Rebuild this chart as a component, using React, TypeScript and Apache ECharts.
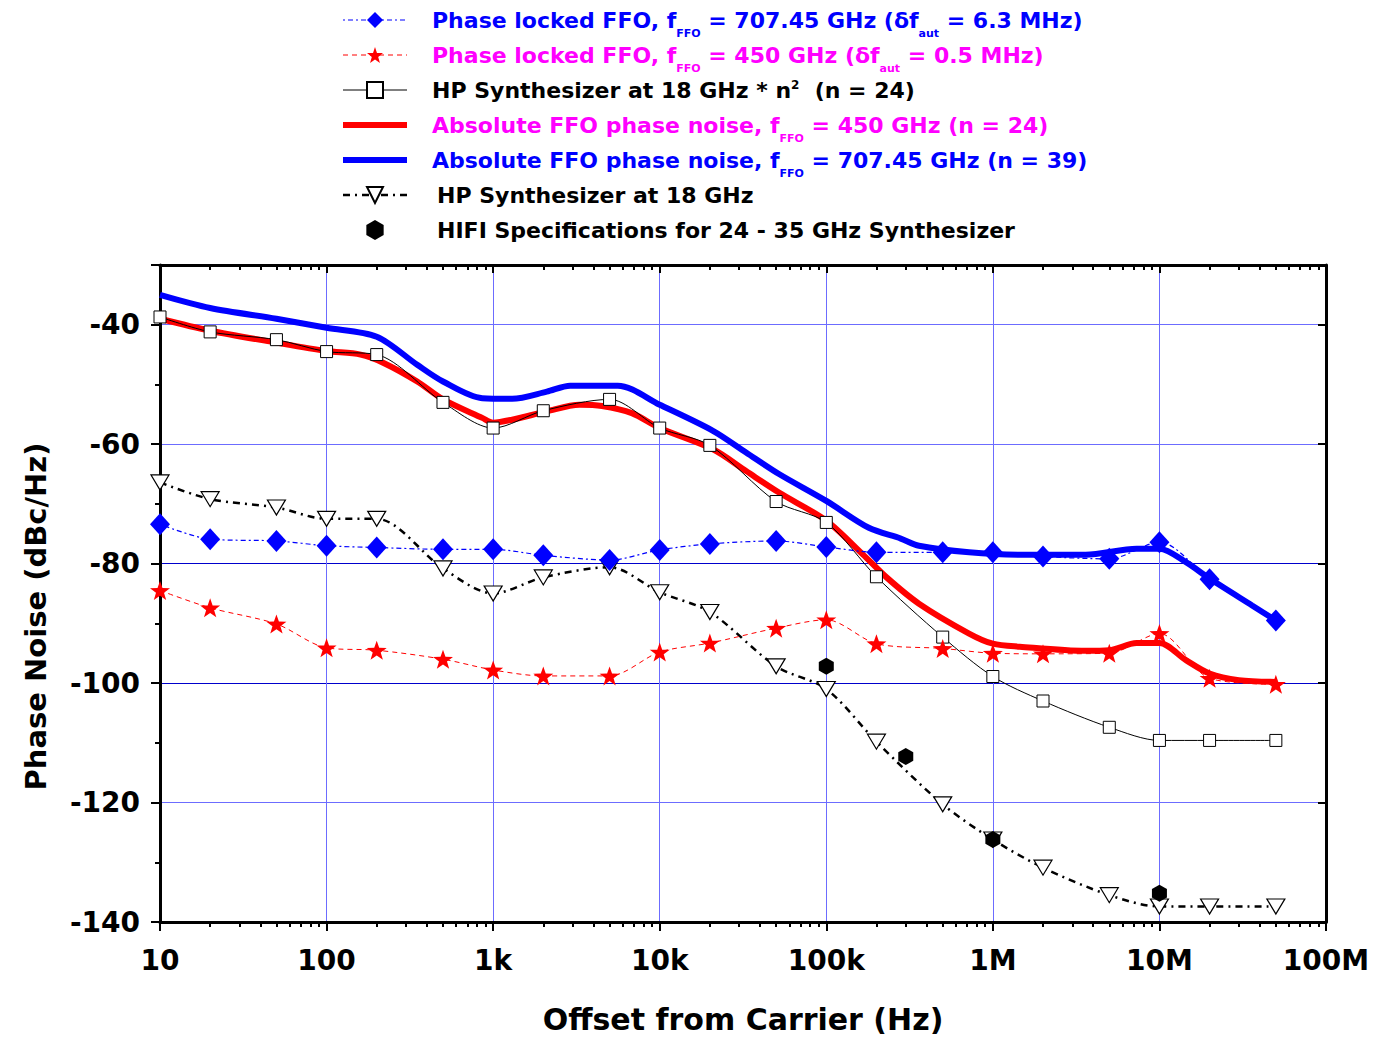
import React, { useEffect, useRef } from 'react';
import * as echarts from 'echarts';

// ---------- data ----------
const FREQ = [10, 20, 50, 100, 200, 500, 1e3, 2e3, 5e3, 1e4, 2e4, 5e4, 1e5, 2e5, 5e5, 1e6, 2e6, 5e6, 1e7, 2e7, 5e7];
const PL_707 = [-73.4, -75.9, -76.2, -77.0, -77.3, -77.6, -77.6, -78.6, -79.4, -77.7, -76.7, -76.2, -77.2, -78.1, -78.1, -78.1, -78.8, -79.2, -76.4, -82.6, -89.5];
const PL_450 = [-84.5, -87.4, -90.1, -94.1, -94.5, -96.0, -97.8, -98.8, -98.8, -94.8, -93.3, -90.8, -89.4, -93.4, -94.2, -95.0, -95.1, -95.0, -91.7, -99.2, -100.2];
const HP_N2 = [-38.7, -41.2, -42.5, -44.5, -45.0, -53.0, -57.3, -54.4, -52.5, -57.3, -60.2, -69.6, -73.1, -82.2, -92.3, -98.9, -103.0, -107.4, -109.6, -109.6, -109.6];
const HP_18 = [-66.4, -69.2, -70.6, -72.5, -72.5, -80.8, -85.0, -82.3, -80.6, -84.8, -88.1, -97.2, -101.0, -109.8, -120.3, -126.2, -130.9, -135.5, -137.4, -137.4, -137.4];
const HIFI_FREQ = [1e5, 3e5, 1e6, 1e7];
const HIFI_SPEC = [-97.2, -112.3, -126.2, -135.2];
const ABS_450_FREQ = [10, 20, 50, 100, 160, 220, 350, 500, 860, 1000, 1300, 2100, 3300, 4500, 6800, 1e4, 2.1e4, 3.3e4, 5.2e4, 1e5, 1.65e5, 2.3e5, 3.6e5, 7.2e5, 1e6, 1.45e6, 3.6e6, 5e6, 7.3e6, 1e7, 1.45e7, 2e7, 3e7, 5e7];
const ABS_450 = [-39.0, -41.0, -43.0, -44.4, -45.0, -46.4, -49.5, -52.5, -55.6, -56.4, -55.9, -54.5, -53.4, -53.6, -54.8, -57.3, -60.9, -64.5, -68.1, -72.8, -78.4, -82.3, -86.7, -91.7, -93.4, -93.9, -94.6, -94.5, -93.3, -93.3, -96.2, -98.4, -99.5, -99.8];
const ABS_707_FREQ = [10, 20, 50, 100, 200, 350, 500, 860, 1300, 2100, 2900, 5600, 1e4, 2.1e4, 3.3e4, 5.2e4, 1e5, 1.8e5, 2.8e5, 3.6e5, 7.2e5, 1.45e6, 3.6e6, 7.3e6, 1e7, 1.45e7, 2e7, 3.6e7, 5e7];
const ABS_707 = [-35.0, -37.2, -39.0, -40.5, -42.0, -46.7, -49.5, -52.3, -52.4, -51.2, -50.2, -50.2, -53.4, -57.8, -61.4, -65.0, -69.5, -74.0, -75.8, -77.0, -78.1, -78.5, -78.5, -77.5, -77.5, -79.8, -82.5, -87.0, -89.5];
const X_TICK_LABELS = ['10', '100', '1k', '10k', '100k', '1M', '10M', '100M'];

// ---------- names ----------
const N1 = 'Phase locked FFO, fFFO = 707.45 GHz (δfaut = 6.3 MHz)';
const N2 = 'Phase locked FFO, fFFO = 450 GHz (δfaut = 0.5 MHz)';
const N3 = 'HP Synthesizer at 18 GHz * n2  (n = 24)';
const N4 = 'Absolute FFO phase noise, fFFO = 450 GHz (n = 24)';
const N5 = 'Absolute FFO phase noise, fFFO = 707.45 GHz (n = 39)';
const N6 = 'HP Synthesizer at 18 GHz';
const N7 = 'HIFI Specifications for 24 - 35 GHz Synthesizer';

const LEGEND_RICH: Record<string, string> = {
  [N1]: '{t|Phase locked FFO, f}{s|FFO}{t| = 707.45 GHz (δf}{s|aut}{t| = 6.3 MHz)}',
  [N2]: '{t|Phase locked FFO, f}{s|FFO}{t| = 450 GHz (δf}{s|aut}{t| = 0.5 MHz)}',
  [N3]: '{t|HP Synthesizer at 18 GHz * n}{p|2}{t|  (n = 24)}',
  [N4]: '{t|Absolute FFO phase noise, f}{s|FFO}{t| = 450 GHz (n = 24)}',
  [N5]: '{t|Absolute FFO phase noise, f}{s|FFO}{t| = 707.45 GHz (n = 39)}',
  [N6]: '{t|HP Synthesizer at 18 GHz}',
  [N7]: '{t|HIFI Specifications for 24 - 35 GHz Synthesizer}',
};

const FONT = 'DejaVu Sans';
const STAR = 'path://M50,0L61.8,33.8L97.6,34.5L69,56.2L79.4,90.5L50,70L20.6,90.5L31,56.2L2.4,34.5L38.2,33.8Z';
const HEX = 'path://M50,0L93.3,25L93.3,75L50,100L6.7,75L6.7,25Z';
const TRI = 'path://M0,0L100,0L50,87Z';

const zip = (xs: number[], ys: number[]) => xs.map((x, i) => [x, ys[i]]);

const minorTicks: number[] = [];
for (let d = 10; d < 1e8; d *= 10) {
  for (let k = 2; k <= 9; k++) minorTicks.push(d * k);
}

export default function App() {
  const ref = useRef<HTMLDivElement>(null);
  useEffect(() => {
    if (!ref.current) return;
    const chart = echarts.init(ref.current, null, { renderer: 'svg' });
    const labelFont = { fontFamily: FONT, fontWeight: 'bold' as const, color: '#000' };
    const xBase = { type: 'log' as const, logBase: 10, min: 10, max: 1e8, gridIndex: 0 };
    const rich = {
      t: { fontFamily: FONT, fontWeight: 'bold', fontSize: 22, lineHeight: 30, verticalAlign: 'top' },
      s: { fontFamily: FONT, fontWeight: 'bold', fontSize: 11, lineHeight: 30, verticalAlign: 'bottom' },
      p: { fontFamily: FONT, fontWeight: 'bold', fontSize: 12, lineHeight: 30, verticalAlign: 'top' },
    };
    const option: any = {
      animation: false,
      backgroundColor: '#fff',
      grid: { left: 160, right: 49, top: 265, bottom: 120, containLabel: false, outerBoundsMode: 'none' },
      legend: {
        orient: 'vertical',
        left: 340,
        top: 1,
        padding: 0,
        itemGap: -3,
        itemWidth: 64,
        itemHeight: 20,
        selectedMode: false,
        symbolKeepAspect: true,
        textStyle: { fontFamily: FONT, fontWeight: 'bold', fontSize: 22, lineHeight: 30, padding: [8, 0, 0, 20], rich },
        formatter: (name: string) => LEGEND_RICH[name] || name,
        data: [
          { name: N1, textStyle: { color: '#0000ff' }, lineStyle: { width: 1.2 } },
          { name: N2, textStyle: { color: '#ff00ff' }, lineStyle: { width: 1 } },
          { name: N3, textStyle: { color: '#000000' }, lineStyle: { width: 1 } },
          { name: N4, textStyle: { color: '#ff00ff' }, itemStyle: { opacity: 0 }, lineStyle: { width: 6 } },
          { name: N5, textStyle: { color: '#0000ff' }, itemStyle: { opacity: 0 }, lineStyle: { width: 6 } },
          { name: N6, textStyle: { color: '#000000', padding: [8, 0, 0, 25] }, lineStyle: { width: 2.5 } },
          { name: N7, textStyle: { color: '#000000', padding: [8, 0, 0, 25] } },
        ],
      },
      xAxis: [
        {
          ...xBase,
          position: 'bottom',
          axisLine: { show: true, onZero: false, lineStyle: { color: '#000', width: 3 } },
          axisTick: { show: true, inside: false, length: 9, lineStyle: { color: '#000', width: 2 } },
          axisLabel: {
            ...labelFont,
            fontSize: 28,
            margin: 24,
            formatter: (v: number) => X_TICK_LABELS[Math.round(Math.log10(v)) - 1] ?? '',
          },
          splitLine: { show: true, lineStyle: { color: '#6c6cff', width: 1 } },
          name: 'Offset from Carrier (Hz)',
          nameLocation: 'middle',
          nameGap: 82,
          nameTextStyle: { ...labelFont, fontSize: 30 },
        },
        {
          ...xBase,
          position: 'bottom',
          axisLine: { show: false, onZero: false },
          axisTick: { show: true, inside: false, length: 5, customValues: minorTicks, lineStyle: { color: '#000', width: 2 } },
          axisLabel: { show: false },
          splitLine: { show: false },
        },
        {
          ...xBase,
          position: 'top',
          axisLine: { show: true, onZero: false, lineStyle: { color: '#000', width: 3 } },
          axisTick: { show: true, inside: true, length: 8, lineStyle: { color: '#000', width: 2 } },
          axisLabel: { show: false },
          splitLine: { show: false },
        },
        {
          ...xBase,
          position: 'top',
          axisLine: { show: false, onZero: false },
          axisTick: { show: true, inside: true, length: 5, customValues: minorTicks, lineStyle: { color: '#000', width: 2 } },
          axisLabel: { show: false },
          splitLine: { show: false },
        },
      ],
      yAxis: [
        {
          type: 'value',
          min: -140,
          max: -30,
          interval: 20,
          position: 'left',
          axisLine: { show: true, onZero: false, lineStyle: { color: '#000', width: 3 } },
          axisTick: { show: true, inside: false, length: 9, lineStyle: { color: '#000', width: 2 } },
          minorTick: { show: true, splitNumber: 2, length: 5, lineStyle: { color: '#000', width: 2 } },
          axisLabel: { ...labelFont, fontSize: 28, margin: 20, showMaxLabel: false, formatter: (v: number) => (v === -30 ? '' : String(v)) },
          splitLine: { show: true, lineStyle: { color: ['#000', '#6c6cff', '#0000cc', '#0000cc', '#6c6cff', '#6c6cff', '#000'], width: 1 } },
          name: 'Phase Noise (dBc/Hz)',
          nameLocation: 'middle',
          nameGap: 110,
          nameTextStyle: { ...labelFont, fontSize: 29, padding: [0, 46, 0, 0] },
        },
        {
          type: 'value',
          min: -140,
          max: -30,
          interval: 20,
          position: 'right',
          axisLine: { show: true, onZero: false, lineStyle: { color: '#000', width: 3 } },
          axisTick: { show: true, inside: true, length: 8, lineStyle: { color: '#000', width: 2 } },
          minorTick: { show: false },
          axisLabel: { show: false },
          splitLine: { show: false },
        },
      ],
      series: [
        {
          name: N4, type: 'line', data: zip(ABS_450_FREQ, ABS_450), symbol: 'none', smooth: 0.3,
          lineStyle: { color: '#ff0000', width: 6 }, itemStyle: { color: '#ff0000' }, z: 2,
        },
        {
          name: N5, type: 'line', data: zip(ABS_707_FREQ, ABS_707), symbol: 'none', smooth: 0.3,
          lineStyle: { color: '#0000ff', width: 6 }, itemStyle: { color: '#0000ff' }, z: 2,
        },
        {
          name: N3, type: 'line', data: zip(FREQ, HP_N2), symbol: 'rect', symbolSize: 12, smooth: 0.3,
          lineStyle: { color: '#000', width: 1 }, itemStyle: { color: '#fff', borderColor: '#000', borderWidth: 1 }, z: 3,
        },
        {
          name: N6, type: 'line', data: zip(FREQ, HP_18), symbol: TRI, symbolSize: [18, 15], smooth: 0.3,
          lineStyle: { color: '#000', width: 2.5, type: [7, 5, 2, 5] }, itemStyle: { color: '#fff', borderColor: '#000', borderWidth: 1.2 }, z: 3,
        },
        {
          name: N2, type: 'line', data: zip(FREQ, PL_450), symbol: STAR, symbolSize: 20, symbolKeepAspect: true, smooth: 0.3,
          lineStyle: { color: '#ff0000', width: 1, type: [5, 4] }, itemStyle: { color: '#ff0000' }, z: 4,
        },
        {
          name: N1, type: 'line', data: zip(FREQ, PL_707), symbol: 'diamond', symbolSize: [20, 22], smooth: 0.3,
          lineStyle: { color: '#0000ff', width: 1.2, type: [2, 3, 5, 3] }, itemStyle: { color: '#0000ff' }, z: 4,
        },
        {
          name: N7, type: 'scatter', data: zip(HIFI_FREQ, HIFI_SPEC), symbol: HEX, symbolSize: [15, 17],
          itemStyle: { color: '#000', opacity: 1 }, z: 5,
        },
      ],
    };
    chart.setOption(option);
    return () => chart.dispose();
  }, []);
  return (
    <div
      ref={ref}
      style={{ position: 'fixed', left: 0, top: 0, width: 1375, height: 1042, background: '#fff' }}
    />
  );
}
